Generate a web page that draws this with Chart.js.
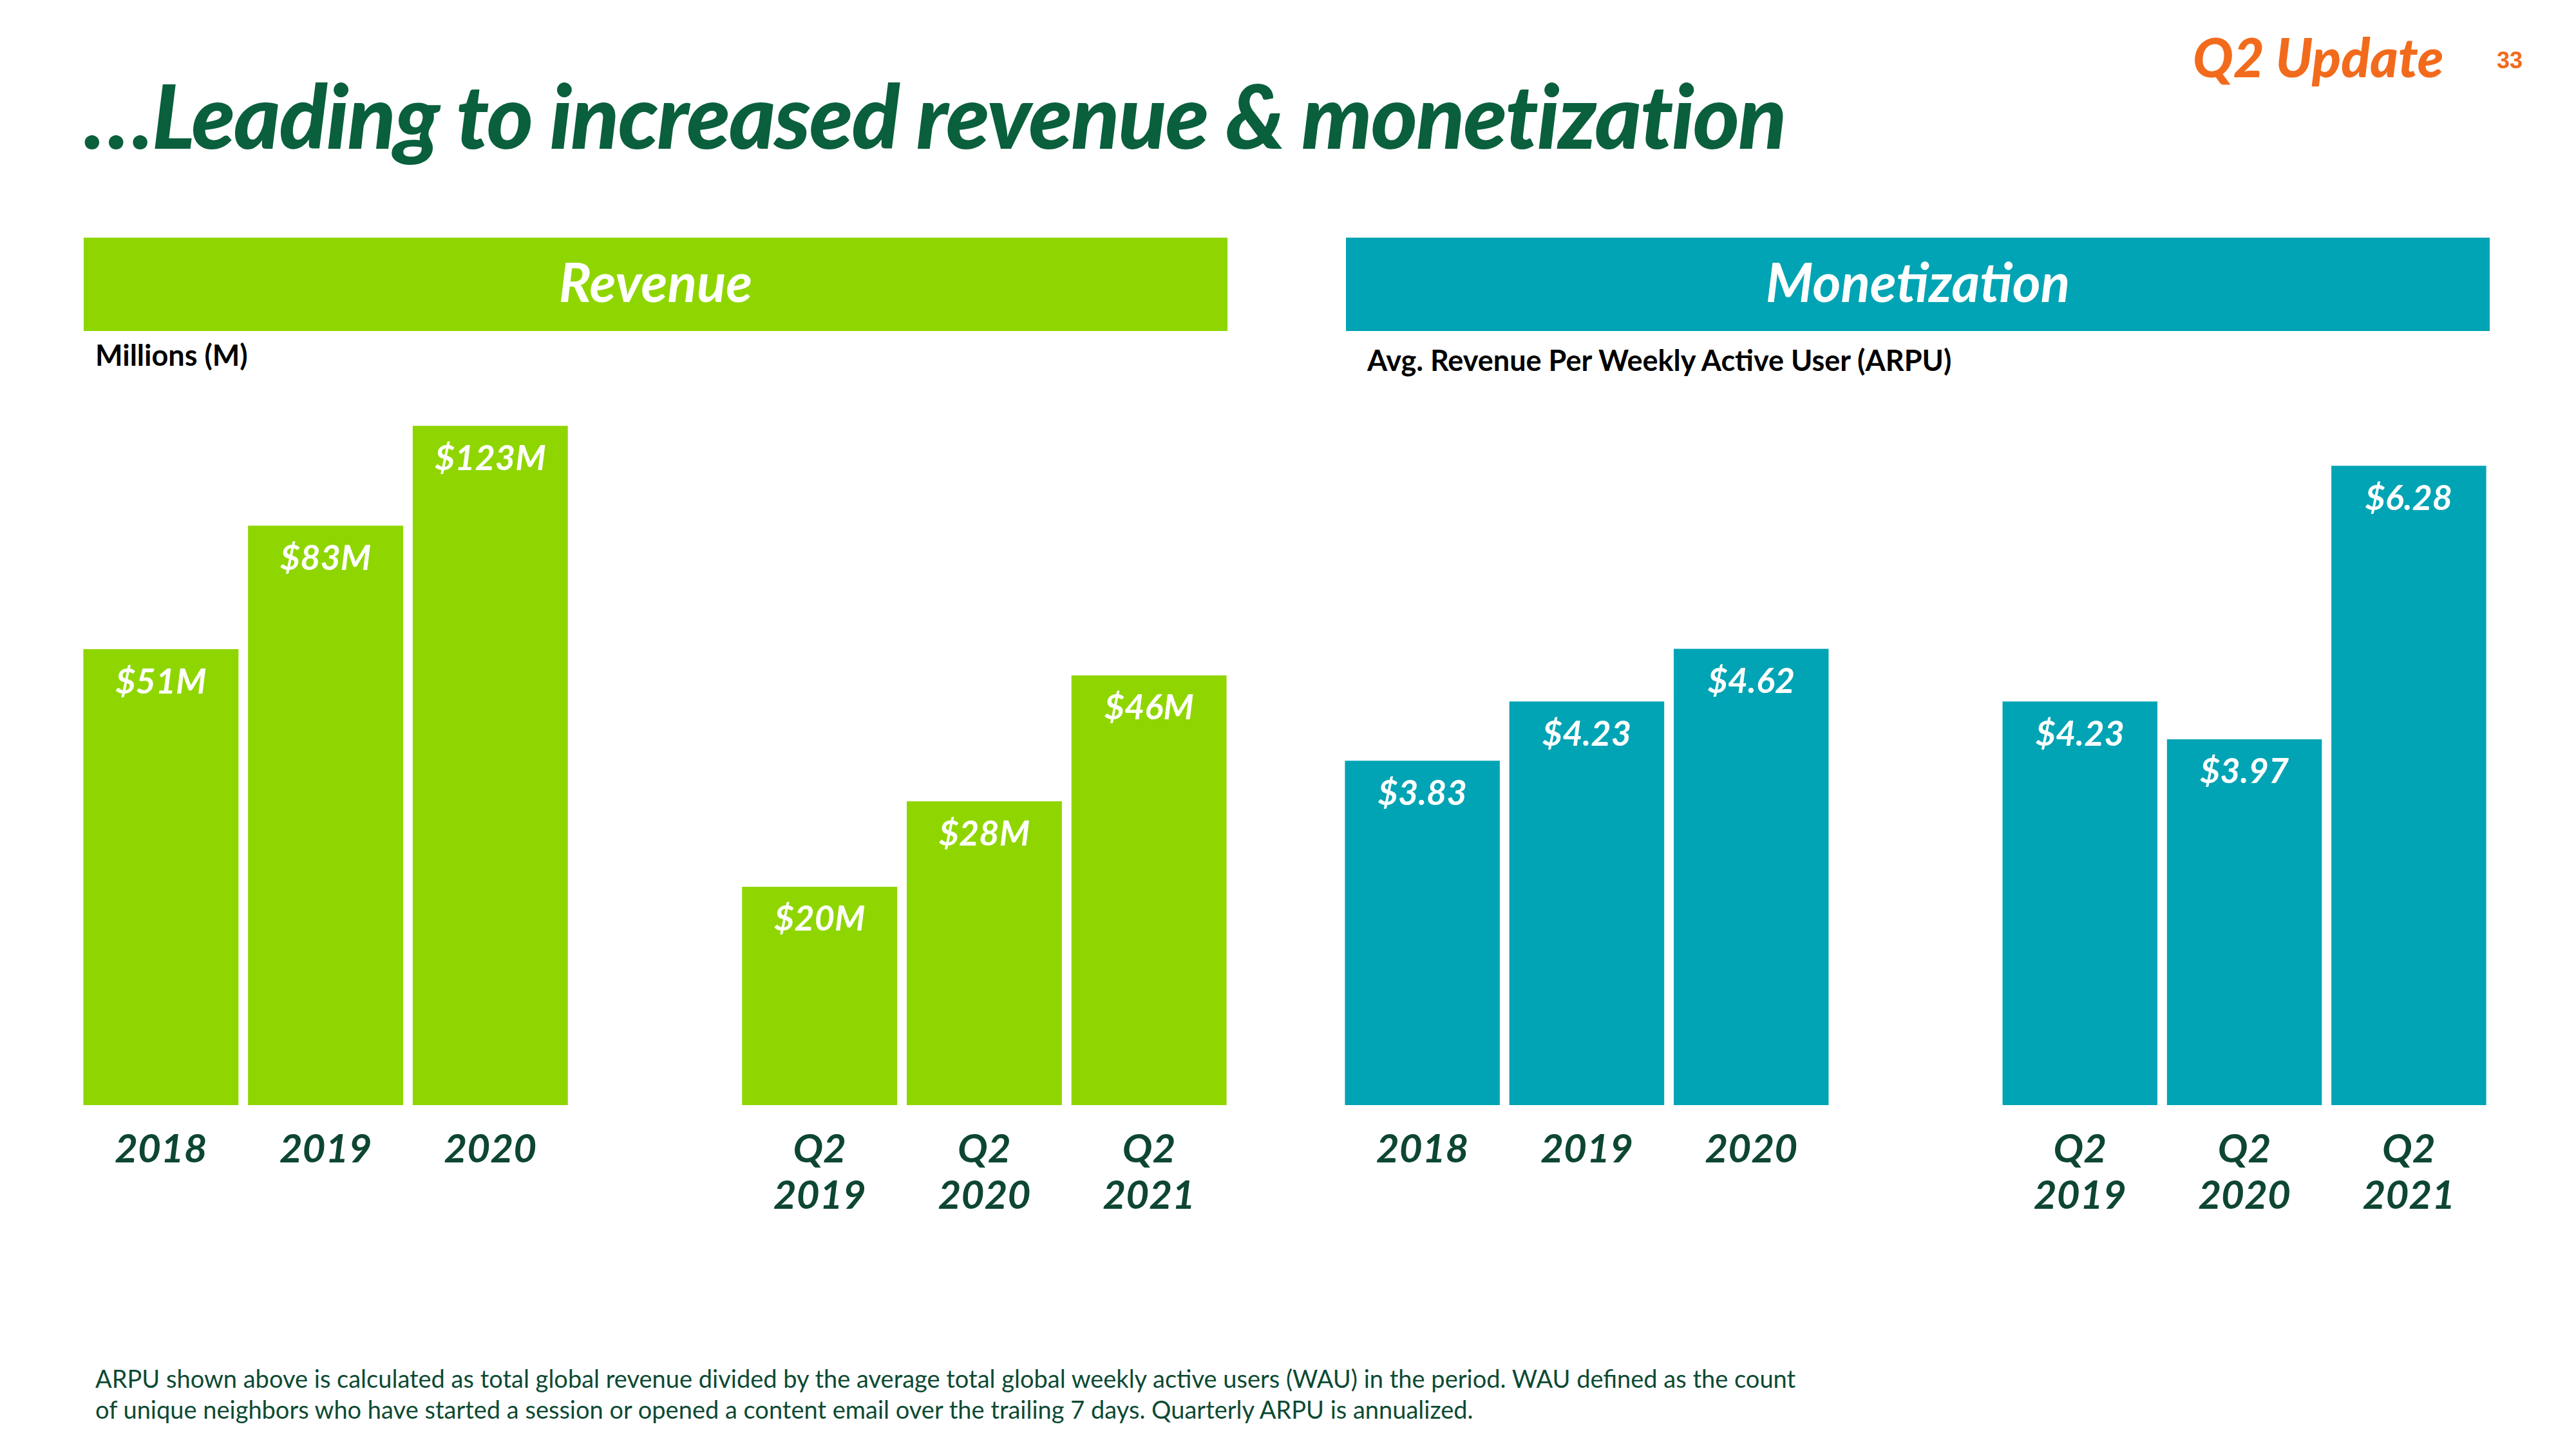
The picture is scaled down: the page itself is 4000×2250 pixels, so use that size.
<!DOCTYPE html>
<html>
<head>
<meta charset="utf-8">
<script src="https://cdn.jsdelivr.net/npm/chart.js@4.4.0/dist/chart.umd.min.js"></script>
<style>
  body { margin: 0; width: 4000px; height: 2250px; background: #fff; position: relative; overflow: hidden; font-family: Lato, "Open Sans", sans-serif; }
  .abs { position: absolute; white-space: nowrap; }
  #title { left: 130px; top: 98px; font-size: 138px; line-height: 160px; font-weight: 900; font-style: italic; color: #0A5F3D; letter-spacing: -2px; }
  #update { left: 3405px; top: 38px; font-size: 83px; line-height: 100px; font-weight: 900; font-style: italic; color: #F26B1C; }
  #page { left: 3877px; top: 74px; font-size: 36px; line-height: 40px; font-weight: bold; color: #F26B1C; font-family: "Liberation Sans", Arial, sans-serif; }
  .band { position: absolute; top: 369px; height: 135px; padding-bottom: 10px; width: 1776px; display: flex; align-items: center; justify-content: center; color: #fff; font-size: 84px; font-weight: bold; font-style: italic; }
  .sub { font-size: 45px; line-height: 50px; font-weight: bold; color: #000; }
  #note { left: 148px; top: 2116px; font-size: 38px; line-height: 48px; color: #0D4A33; }
  .box { position: absolute; top: 560px; height: 1356px; }
</style>
</head>
<body>
<div class="abs" id="title">…Leading to increased revenue &amp; monetization</div>
<div class="abs" id="update">Q2 Update</div>
<div class="abs" id="page">33</div>

<div class="band" style="left:130px;background:#8FD600;">Revenue</div>
<div class="band" style="left:2090px;background:#00A4B4;">Monetization</div>
<div class="abs sub" style="left:148px;top:526px;">Millions (M)</div>
<div class="abs sub" style="left:2123px;top:534px;">Avg. Revenue Per Weekly Active User (ARPU)</div>

<div class="box" style="left:122px;width:1790px;"><canvas id="revChart"></canvas></div>
<div class="box" style="left:2081px;width:1787px;"><canvas id="arpuChart"></canvas></div>

<div class="abs" id="note">ARPU shown above is calculated as total global revenue divided by the average total global weekly active users (WAU) in the period. WAU defined as the count<br>of unique neighbors who have started a session or opened a content email over the trailing 7 days. Quarterly ARPU is annualized.</div>

<script>
// data
const years = ["2018", "2019", "2020"];
const quarters = [["Q2", "2019"], ["Q2", "2020"], ["Q2", "2021"]];
const revenueAnnual = [51, 83, 123];      // $M
const revenueQuarter = [20, 28, 46];      // $M
const arpuAnnual = [3.83, 4.23, 4.62];    // $
const arpuQuarter = [4.23, 3.97, 6.28];   // $ (annualized)

// the slide's bars are compressed, a hidden log axis per panel gets close to it
const revAxis = [8.46, 159];
const arpuAxis = [2.15, 7.49];

const GREEN = "#8FD600";
const TEAL = "#00A4B4";
const TICK_GREEN = "#0D4631";

// one empty slot between the yearly and the quarterly group
const labels = [...years, "", ...quarters];

const valueLabels = {
  id: "valueLabels",
  afterDatasetsDraw(chart, args, opts) {
    const ctx = chart.ctx;
    const meta = chart.getDatasetMeta(0);
    const data = chart.data.datasets[0].data;
    ctx.save();
    ctx.fillStyle = "#fff";
    ctx.font = "italic bold 54px Lato";
    ctx.textAlign = "center";
    ctx.textBaseline = "middle";
    meta.data.forEach(function(bar, i) {
      if (data[i] == null) return;
      ctx.fillText("$" + data[i].toFixed(opts.decimals) + opts.suffix, bar.x, bar.y + 51);
    });
    ctx.restore();
  }
};

function makeChart(id, values, color, axis, decimals, suffix) {
  return new Chart(document.getElementById(id), {
    type: "bar",
    data: {
      labels: labels,
      datasets: [{
        data: values,
        backgroundColor: color,
        base: axis[0],
        barPercentage: 0.942,
        categoryPercentage: 1
      }]
    },
    options: {
      responsive: true,
      maintainAspectRatio: false,
      animation: false,
      layout: { padding: 0 },
      plugins: {
        legend: { display: false },
        tooltip: { enabled: false },
        valueLabels: { decimals: decimals, suffix: suffix }
      },
      scales: {
        x: {
          grid: { display: false, drawTicks: false },
          border: { display: false },
          ticks: {
            color: TICK_GREEN,
            padding: 33,
            maxRotation: 0,
            autoSkip: false,
            font: { family: "Lato", size: 62, style: "italic", weight: "bold", lineHeight: 1.16 }
          },
          afterFit: function(scale) { scale.height = 200; }
        },
        y: { type: "logarithmic", display: false, min: axis[0], max: axis[1] }
      }
    },
    plugins: [valueLabels]
  });
}

makeChart("revChart", [...revenueAnnual, null, ...revenueQuarter], GREEN, revAxis, 0, "M");
makeChart("arpuChart", [...arpuAnnual, null, ...arpuQuarter], TEAL, arpuAxis, 2, "");
</script>
</body>
</html>
